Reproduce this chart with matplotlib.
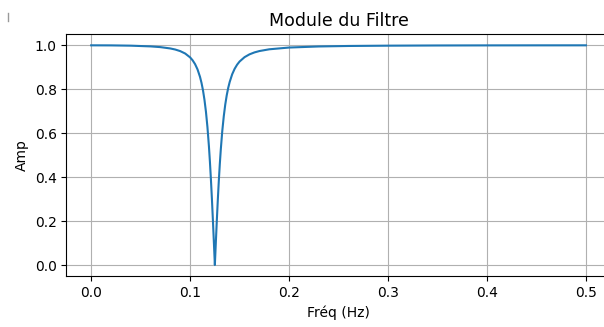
import matplotlib
matplotlib.use("Agg")
import matplotlib.pyplot as plt
from matplotlib.lines import Line2D

# frequency (Hz) and amplitude
freq = [0.0, 0.02, 0.04, 0.06, 0.07, 0.08, 0.085, 0.09, 0.095, 0.1, 0.1025,
        0.105, 0.1075, 0.11, 0.1115, 0.113, 0.1145, 0.116, 0.1175, 0.119,
        0.12, 0.121, 0.122, 0.123, 0.124, 0.125, 0.126, 0.127, 0.128, 0.129,
        0.13, 0.131, 0.1325, 0.134, 0.1355, 0.137, 0.1385, 0.14, 0.1425,
        0.145, 0.1475, 0.15, 0.155, 0.16, 0.165, 0.17, 0.18, 0.2, 0.23,
        0.26, 0.3, 0.35, 0.4, 0.45, 0.5]
amp = [1.0, 0.9997, 0.9984, 0.9951, 0.9918, 0.9857, 0.9808, 0.9736, 0.9627, 0.945, 0.9319,
       0.9144, 0.8902, 0.8563, 0.8291, 0.7953, 0.7518, 0.6973, 0.6278, 0.5404,
       0.4705, 0.3913, 0.3028, 0.2063, 0.1045, 0.0, 0.1044, 0.2042, 0.2981, 0.3834,
       0.4595, 0.526, 0.6102, 0.6768, 0.7303, 0.7725, 0.8063, 0.8333, 0.8682,
       0.8932, 0.912, 0.9263, 0.9461, 0.9589, 0.9677, 0.9739, 0.9819, 0.9899, 0.9948,
       0.997, 0.9984, 0.9993, 0.9997, 0.9999, 1.0]

fig = plt.figure(figsize=(6.04, 3.27), dpi=100)
ax = fig.add_axes([0.110, 0.156, 0.901, 0.739])

ax.plot(freq, amp)
ax.set_xlim(-0.025, 0.525)
ax.set_ylim(-0.05, 1.05)
ax.set_xticks([0.0, 0.1, 0.2, 0.3, 0.4, 0.5])
ax.set_yticks([0.0, 0.2, 0.4, 0.6, 0.8, 1.0])
ax.grid(True)
ax.set_title('Module du Filtre', fontsize=12.5)
ax.set_xlabel('Fréq (Hz)')
ax.set_ylabel('Amp')

# small stray mark at top-left of the original screenshot
fig.add_artist(Line2D([8/604, 8/604], [1 - 13/327, 1 - 21/327], color='0.6', lw=1))

fig.savefig('out.png', dpi=100)
